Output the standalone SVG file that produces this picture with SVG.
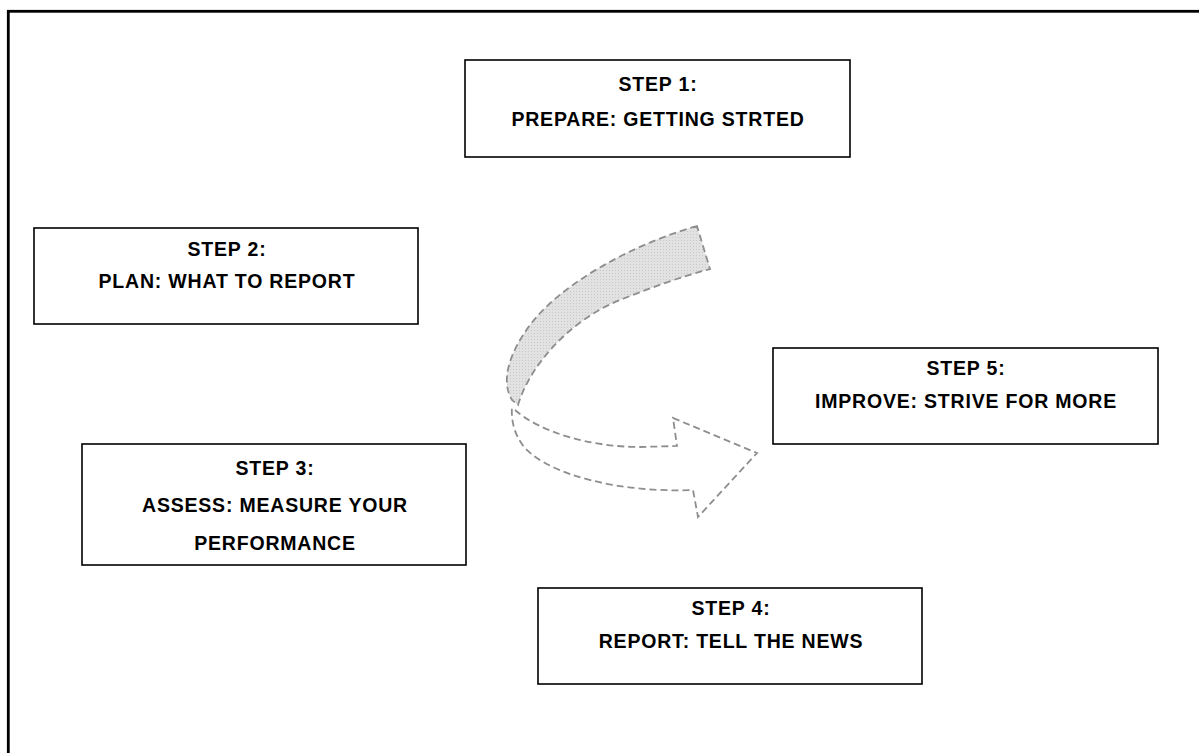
<svg xmlns="http://www.w3.org/2000/svg" width="1199" height="753" viewBox="0 0 1199 753">
  <style>
    .box { fill: #ffffff; stroke: #000000; stroke-width: 1.6; }
    .lbl { font-family: "Liberation Sans", Arial, sans-serif; font-weight: bold; font-size: 19.5px; letter-spacing: 0.8px; fill: #000000; text-anchor: middle; }
    .dash { stroke: #8e8e8e; stroke-width: 1.8; stroke-dasharray: 7 4; stroke-linejoin: miter; }
  </style>
  <defs>
    <pattern id="stipple" width="3" height="3" patternUnits="userSpaceOnUse">
      <rect width="3" height="3" fill="#e2e2e2"/>
      <rect width="1" height="1" fill="#c8c8c8"/>
    </pattern>
  </defs>

  <!-- page frame -->
  <rect x="8.3" y="11.3" width="1220" height="780" fill="#ffffff" stroke="#000000" stroke-width="2.8"/>

  <!-- cycle arrow -->
  <g id="connectors">
    <path class="dash" fill="url(#stipple)" d="M 697,226 C 630,245 560,285 530,325 C 510,352 500,380 512,400 L 518,405 C 530,365 570,320 620,300 C 650,288 680,277 710,269 Z"/>
    <path class="dash" fill="none" d="M 515,410 C 540,432 590,447 640,447 L 677,446 L 673,418 L 757,453 L 698,517 L 693,490 C 620,493 550,475 525,448 C 514,435 511,420 512,407"/>
  </g>

  <g id="step1">
    <rect class="box" x="465" y="60" width="385" height="97"/>
    <text class="lbl" x="658" y="91">STEP 1:</text>
    <text class="lbl" x="658" y="126">PREPARE: GETTING STRTED</text>
  </g>

  <g id="step2">
    <rect class="box" x="34" y="228" width="384" height="96"/>
    <text class="lbl" x="227" y="256">STEP 2:</text>
    <text class="lbl" x="227" y="288">PLAN: WHAT TO REPORT</text>
  </g>

  <g id="step3">
    <rect class="box" x="82" y="444" width="384" height="121"/>
    <text class="lbl" x="275" y="475">STEP 3:</text>
    <text class="lbl" x="275" y="512">ASSESS: MEASURE YOUR</text>
    <text class="lbl" x="275" y="550">PERFORMANCE</text>
  </g>

  <g id="step4">
    <rect class="box" x="538" y="588" width="384" height="96"/>
    <text class="lbl" x="731" y="615">STEP 4:</text>
    <text class="lbl" x="731" y="648">REPORT: TELL THE NEWS</text>
  </g>

  <g id="step5">
    <rect class="box" x="773" y="348" width="385" height="96"/>
    <text class="lbl" x="966" y="375">STEP 5:</text>
    <text class="lbl" x="966" y="408">IMPROVE: STRIVE FOR MORE</text>
  </g>
</svg>
